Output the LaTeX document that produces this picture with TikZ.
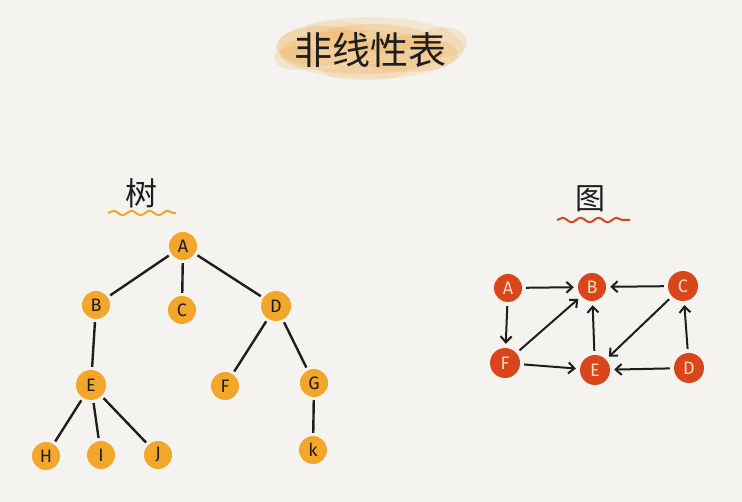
\documentclass[tikz,border=0pt]{standalone}
\usepackage{fontspec}
\setmainfont{Fira Sans}
\newfontfamily\cjk{Noto Sans CJK SC}
\usetikzlibrary{arrows.meta,decorations.pathmorphing}
\definecolor{bg}{HTML}{F4F3F0}
\definecolor{treecol}{HTML}{F2A72A}
\definecolor{graphcol}{HTML}{D9461C}
\definecolor{blot}{HTML}{F0B25A}
\definecolor{inkc}{HTML}{1E1E1E}
\definecolor{gtext}{HTML}{F9DDB8}
\tikzset{
  tnode/.style={circle,fill=treecol,minimum size=28pt,inner sep=0pt,font=\fontsize{18}{18}\selectfont,text=inkc},
  gnode/.style={circle,fill=graphcol,minimum size=30pt,inner sep=0pt,font=\fontsize{18}{18}\selectfont,text=gtext},
  tedge/.style={draw=inkc,line width=2.4pt,shorten <=3pt,shorten >=3pt},
  gedge/.style={draw=inkc,line width=2pt,shorten <=4pt,shorten >=4pt,-{Straight Barb[length=6pt,width=11pt,line width=2pt]}},
  wave/.style={line width=2pt,decorate,decoration={snake,amplitude=2.2pt,segment length=18pt}},
  label/.style={font=\cjk\fontsize{32}{32}\selectfont,text=inkc}
}
\begin{document}
\begin{tikzpicture}[x=1pt,y=-1pt]
\fill[bg] (0,0) rectangle (742,502);
\useasboundingbox (0,0) rectangle (742,502);
% title blotch
\begin{scope}
\fill[blot,opacity=0.18] (370,48) ellipse (94 and 31);
\fill[blot,opacity=0.25] (362,52) ellipse (82 and 22);
\fill[blot,opacity=0.3] (322,46) ellipse (45 and 20);
\fill[blot,opacity=0.3] (408,54) ellipse (50 and 18);
\fill[blot,opacity=0.3] (372,38) ellipse (58 and 14);
\fill[blot,opacity=0.22] (296,58) ellipse (22 and 12);
\fill[blot,opacity=0.22] (442,42) ellipse (25 and 15);
\fill[blot,opacity=0.18] (365,72) ellipse (42 and 8);
\fill[blot,opacity=0.15] (335,30) ellipse (30 and 9);
\end{scope}
\node[font=\cjk\fontsize{38}{38}\selectfont,text=inkc] (title) at (370,50) {非线性表};
% tree
\node[label] (tlab) at (141,193) {树};
\draw[treecol,wave] (108,213) -- (176,213);
\node[tnode] (A) at (183,246) {A};
\node[tnode] (B) at (96,305) {B};
\node[tnode] (C) at (182,310) {C};
\node[tnode,minimum size=30pt] (D) at (276,306) {D};
\node[tnode,minimum size=30pt] (E) at (91,385) {E};
\node[tnode] (F) at (225,386) {F};
\node[tnode] (G) at (314,383) {G};
\node[tnode] (H) at (46,456) {H};
\node[tnode] (I) at (101,455) {I};
\node[tnode] (J) at (158,455) {J};
\node[tnode] (K) at (313,450) {k};
\draw[tedge] (A) -- (B);
\draw[tedge] (A) -- (C);
\draw[tedge] (A) -- (D);
\draw[tedge] (B) -- (E);
\draw[tedge] (D) -- (F);
\draw[tedge] (D) -- (G);
\draw[tedge] (E) -- (H);
\draw[tedge] (E) -- (I);
\draw[tedge] (E) -- (J);
\draw[tedge] (G) -- (K);
% graph
\node[label,font=\cjk\fontsize{30}{30}\selectfont] (glab) at (590,199) {图};
\draw[graphcol,wave] (557,220) -- (630,220);
\node[gnode,minimum size=28pt] (gA) at (508,288) {A};
\node[gnode,minimum size=28pt] (gB) at (592,287) {B};
\node[gnode] (gC) at (683,286) {C};
\node[gnode] (gF) at (505,363) {F};
\node[gnode] (gE) at (595,370) {E};
\node[gnode] (gD) at (689,368) {D};
\draw[gedge] (gA) -- (gB);
\draw[gedge] (gC) -- (gB);
\draw[gedge] (gA) -- (gF);
\draw[gedge] (gF) -- (gB);
\draw[gedge] (gF) -- (gE);
\draw[gedge] (gE) -- (gB);
\draw[gedge] (gC) -- (gE);
\draw[gedge] (gD) -- (gE);
\draw[gedge] (gD) -- (gC);
\end{tikzpicture}
\end{document}
